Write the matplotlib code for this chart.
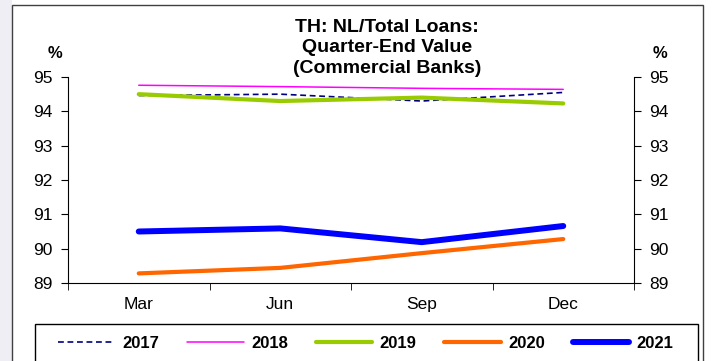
import matplotlib
matplotlib.use('Agg')
import matplotlib.pyplot as plt
from matplotlib.patches import Rectangle

plt.rcParams['font.family'] = ['Liberation Sans', 'DejaVu Sans']

quarters = ['Mar', 'Jun', 'Sep', 'Dec']
years = ['2017', '2018', '2019', '2020', '2021']
v2017 = [94.46, 94.50, 94.30, 94.55]
v2018 = [94.76, 94.72, 94.67, 94.64]
v2019 = [94.50, 94.30, 94.40, 94.23]
v2020 = [89.28, 89.44, 89.87, 90.28]
v2021 = [90.50, 90.59, 90.19, 90.66]

series = [v2017, v2018, v2019, v2020, v2021]
colors = ['#000080', '#ff00ff', '#99cc00', '#ff6600', '#0000ff']
widths = [1.2, 1.1, 3.0, 3.0, 4.3]
styles = [(0, (3.5, 2.2)), '-', '-', '-', '-']

W, H = 712, 361
fig = plt.figure(figsize=(W / 100, H / 100), dpi=100)

# outer frame and the grey strip on the left
fig.patches.append(Rectangle((0, 0), 12 / W, 1, transform=fig.transFigure,
                             facecolor='#eeeef4', edgecolor='none'))
fig.patches.append(Rectangle((12 / W, -0.01), (703 - 12) / W, 1.01 - 5 / H, transform=fig.transFigure,
                             fill=False, edgecolor='#404040', lw=1))

ax = fig.add_axes([68 / W, 1 - 283 / H, (634 - 68) / W, (283 - 77) / H])
x = list(range(len(quarters)))
for vals, c, w, s, y in zip(series, colors, widths, styles, years):
    ax.plot(x, vals, color=c, lw=w, ls=s, label=y, solid_capstyle='round')

ax.set_xlim(-0.5, 3.5)
ax.set_ylim(89, 95)
ax.set_yticks(range(89, 96))
ax.set_xticks(x)
ax.set_xticklabels(quarters, fontsize=12.5)
ax.set_xticks([-0.5, 0.5, 1.5, 2.5, 3.5], minor=True)
ax.tick_params(axis='x', which='major', length=0, pad=10)
ax.tick_params(axis='x', which='minor', length=5, direction='out')
ax.tick_params(axis='y', labelsize=12.5, length=5, direction='out', pad=6)
ax.spines['top'].set_visible(False)
ax.spines['right'].set_visible(False)

ax2 = ax.twinx()
ax2.set_ylim(89, 95)
ax2.set_yticks(range(89, 96))
ax2.tick_params(axis='y', labelsize=12.5, length=5, direction='out', pad=6)
for sp in ['top', 'left', 'bottom']:
    ax2.spines[sp].set_visible(False)

fig.text(55 / W, 1 - 54 / H, '%', fontsize=12, fontweight='bold', ha='center', va='center')
fig.text(660 / W, 1 - 54 / H, '%', fontsize=12, fontweight='bold', ha='center', va='center')
fig.text(387 / W, 1 - 48 / H, 'TH: NL/Total Loans:\nQuarter-End Value\n(Commercial Banks)',
         fontsize=14, fontweight='bold', ha='center', va='center', linespacing=1.3)

# legend box
fig.patches.append(Rectangle((35 / W, -0.01), (698 - 35) / W, 0.01 + (361 - 324) / H,
                             transform=fig.transFigure, fill=False, edgecolor='black', lw=1))
handles, labels = ax.get_legend_handles_labels()
leg = fig.legend(handles, labels, loc='center', bbox_to_anchor=(366 / W, 1 - 343 / H),
                 ncol=5, frameon=False, prop={'weight': 'bold', 'size': 12},
                 handlelength=3.4, handletextpad=0.45, columnspacing=1.65, borderaxespad=0)

fig.savefig('out.png', dpi=100)
